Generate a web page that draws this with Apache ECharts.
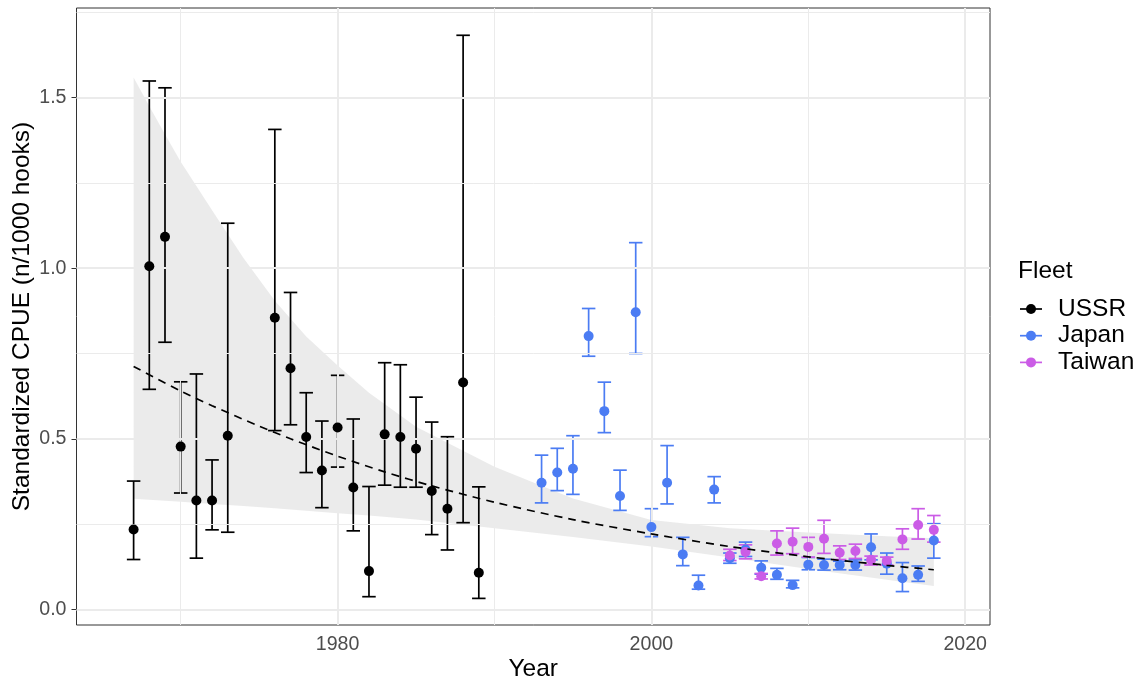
<!DOCTYPE html>
<html>
<head>
<meta charset="utf-8">
<script src="https://cdn.jsdelivr.net/npm/echarts@6/dist/echarts.min.js"></script>
<style>
  html, body { margin: 0; padding: 0; background: #ffffff; }
  #chart { width: 1142px; height: 683px; }
</style>
</head>
<body>
<div id="chart"></div>
<script>
// ---- Standardized CPUE by fleet ----
const fleetNames = ['USSR', 'Japan', 'Taiwan'];
const fleetColors = ['#000000', '#4B7CF3', '#CB5CE6'];

const ussrYears = [1967, 1968, 1969, 1970, 1971, 1972, 1973, 1976, 1977, 1978, 1979,
                   1980, 1981, 1982, 1983, 1984, 1985, 1986, 1987, 1988, 1989];
const ussrCpue  = [0.234, 1.006, 1.092, 0.477, 0.319, 0.319, 0.509, 0.855, 0.707, 0.505, 0.407,
                   0.533, 0.357, 0.112, 0.513, 0.505, 0.471, 0.347, 0.295, 0.665, 0.107];
const ussrLower = [0.146, 0.645, 0.783, 0.341, 0.150, 0.233, 0.226, 0.524, 0.541, 0.401, 0.298,
                   0.417, 0.230, 0.037, 0.364, 0.358, 0.358, 0.219, 0.174, 0.254, 0.032];
const ussrUpper = [0.376, 1.549, 1.529, 0.667, 0.690, 0.438, 1.132, 1.407, 0.929, 0.635, 0.552,
                   0.686, 0.558, 0.360, 0.723, 0.717, 0.622, 0.549, 0.506, 1.683, 0.359];

const japanYears = [1993, 1994, 1995, 1996, 1997, 1998, 1999, 2000, 2001, 2002, 2003, 2004,
                    2005, 2006, 2007, 2008, 2009, 2010, 2011, 2012, 2013, 2014, 2015, 2016, 2017, 2018];
const japanCpue  = [0.371, 0.401, 0.412, 0.801, 0.581, 0.332, 0.871, 0.241, 0.371, 0.161, 0.070, 0.351,
                    0.150, 0.175, 0.122, 0.101, 0.071, 0.131, 0.130, 0.130, 0.130, 0.182, 0.134, 0.091, 0.101, 0.202];
const japanLower = [0.312, 0.348, 0.337, 0.742, 0.518, 0.290, 0.750, 0.213, 0.309, 0.128, 0.059, 0.312,
                    0.135, 0.155, 0.103, 0.088, 0.063, 0.116, 0.115, 0.116, 0.115, 0.145, 0.103, 0.052, 0.082, 0.150];
const japanUpper = [0.452, 0.472, 0.509, 0.882, 0.666, 0.408, 1.075, 0.295, 0.480, 0.211, 0.100, 0.389,
                    0.165, 0.197, 0.142, 0.120, 0.085, 0.152, 0.147, 0.141, 0.145, 0.221, 0.165, 0.137, 0.127, 0.251];

const taiwanYears = [2005, 2006, 2007, 2008, 2009, 2010, 2011, 2012, 2013, 2014, 2015, 2016, 2017, 2018];
const taiwanCpue  = [0.158, 0.168, 0.097, 0.193, 0.198, 0.183, 0.207, 0.166, 0.171, 0.145, 0.142, 0.205, 0.247, 0.233];
const taiwanLower = [0.143, 0.148, 0.089, 0.159, 0.163, 0.153, 0.164, 0.146, 0.149, 0.130, 0.130, 0.176, 0.206, 0.197];
const taiwanUpper = [0.176, 0.189, 0.105, 0.230, 0.238, 0.211, 0.261, 0.186, 0.191, 0.156, 0.153, 0.236, 0.295, 0.275];

// Fitted trend
const trendYears = [1967, 1970, 1972, 1975, 1977, 1980, 1983, 1986, 1990, 1995, 2000, 2005, 2010, 2015, 2018];
const trendFit   = [0.712, 0.640, 0.597, 0.537, 0.500, 0.449, 0.403, 0.362, 0.314, 0.263, 0.221, 0.184, 0.154, 0.129, 0.116];

// Confidence band around the trend
const bandYears = [1967, 1968, 1969, 1970, 1972, 1974, 1976, 1978, 1980, 1982, 1985, 1990, 1995, 2000, 2005, 2010, 2015, 2018];
const bandLower = [0.324, 0.321, 0.318, 0.315, 0.309, 0.303, 0.296, 0.289, 0.282, 0.275, 0.263, 0.238, 0.212, 0.184, 0.152, 0.118, 0.087, 0.068];
const bandUpper = [1.559, 1.475, 1.393, 1.312, 1.170, 1.030, 0.905, 0.800, 0.715, 0.635, 0.535, 0.418, 0.325, 0.262, 0.238, 0.225, 0.214, 0.208];

// Axis breaks
const xMajor = [1980, 2000, 2020];
const xMinor = [1970, 1990, 2010];
const yMajor = [0, 0.5, 1.0, 1.5];
const yMinor = [0.25, 0.75, 1.25, 1.75];

const fleets = [
  { years: ussrYears,   cpue: ussrCpue,   lower: ussrLower,   upper: ussrUpper },
  { years: japanYears,  cpue: japanCpue,  lower: japanLower,  upper: japanUpper },
  { years: taiwanYears, cpue: taiwanCpue, lower: taiwanLower, upper: taiwanUpper }
];

const FONT = '"Liberation Sans", Arial, Helvetica, sans-serif';
const GRID_COLOR = '#EBEBEB';
const CAP_HALF = 0.43; // half width of error bar caps, in years

function errorBars(name, f, color, z) {
  return {
    type: 'custom',
    name: name,
    z: z,
    silent: true,
    data: f.years.map((y, i) => [y, f.lower[i], f.upper[i]]),
    encode: { x: 0, y: [1, 2] },
    renderItem: function (params, api) {
      const x = api.value(0);
      const top = api.coord([x, api.value(2)]);
      const bot = api.coord([x, api.value(1)]);
      const left = api.coord([x - CAP_HALF, api.value(2)])[0];
      const right = api.coord([x + CAP_HALF, api.value(2)])[0];
      const style = { stroke: color, lineWidth: 1.7, fill: null };
      return {
        type: 'group',
        children: [
          { type: 'line', shape: { x1: top[0], y1: top[1], x2: bot[0], y2: bot[1] }, style: style },
          { type: 'line', shape: { x1: left, y1: top[1], x2: right, y2: top[1] }, style: style },
          { type: 'line', shape: { x1: left, y1: bot[1], x2: right, y2: bot[1] }, style: style }
        ]
      };
    }
  };
}

const series = [];

// Panel grid lines
series.push({
  type: 'line',
  data: [],
  z: 0,
  silent: true,
  markLine: {
    silent: true,
    symbol: ['none', 'none'],
    label: { show: false },
    animation: false,
    data: [].concat(
      xMinor.map(v => ({ xAxis: v, lineStyle: { color: GRID_COLOR, width: 1, type: 'solid' } })),
      yMinor.map(v => ({ yAxis: v, lineStyle: { color: GRID_COLOR, width: 1, type: 'solid' } })),
      xMajor.map(v => ({ xAxis: v, lineStyle: { color: GRID_COLOR, width: 2, type: 'solid' } })),
      yMajor.map(v => ({ yAxis: v, lineStyle: { color: GRID_COLOR, width: 2, type: 'solid' } }))
    )
  }
});

// Confidence band as one filled polygon
series.push({
  type: 'custom',
  z: 1,
  silent: true,
  data: bandYears.map((y, i) => [y, bandLower[i], bandUpper[i]]),
  encode: { x: 0, y: [1, 2] },
  renderItem: function (params, api) {
    if (params.dataIndex !== 0) return null;
    const pts = [];
    for (let i = 0; i < bandYears.length; i++) pts.push(api.coord([bandYears[i], bandUpper[i]]));
    for (let i = bandYears.length - 1; i >= 0; i--) pts.push(api.coord([bandYears[i], bandLower[i]]));
    return {
      type: 'polygon',
      shape: { points: pts },
      style: { fill: 'rgba(153,153,153,0.2)', stroke: null }
    };
  }
});

fleets.forEach((f, k) => {
  series.push(errorBars(fleetNames[k] + ' CI', f, fleetColors[k], 2 + k));
});
fleets.forEach((f, k) => {
  series.push({
    type: 'scatter',
    name: fleetNames[k],
    z: 6 + k,
    symbol: 'circle',
    symbolSize: 10,
    itemStyle: { color: fleetColors[k], opacity: 1 },
    data: f.years.map((y, i) => [y, f.cpue[i]])
  });
});

// Fitted trend
series.push({
  type: 'line',
  z: 10,
  silent: true,
  symbol: 'none',
  smooth: 0.3,
  lineStyle: { color: '#000000', width: 1.7, type: [8, 6] },
  data: trendYears.map((y, i) => [y, trendFit[i]])
});

// Legend built from the fleet list
const legendLeft = 1020, legendTop = 309, legendStep = 26.7;
const legendGraphics = [{
  type: 'text', left: 1018, top: 259,
  style: { text: 'Fleet', font: '24.5px ' + FONT, fill: '#000000' }
}];
fleetNames.forEach((name, k) => {
  const cy = legendTop + k * legendStep;
  legendGraphics.push({
    type: 'line', silent: true,
    shape: { x1: legendLeft, y1: cy, x2: legendLeft + 22, y2: cy },
    style: { stroke: fleetColors[k], lineWidth: 1.7 }
  });
  legendGraphics.push({
    type: 'circle', silent: true,
    shape: { cx: legendLeft + 11, cy: cy, r: 5 },
    style: { fill: fleetColors[k] }
  });
  legendGraphics.push({
    type: 'text', silent: true,
    x: legendLeft + 38, y: cy,
    style: { text: name, font: '24.5px ' + FONT, fill: '#000000', verticalAlign: 'middle', align: 'left' }
  });
});

const chart = echarts.init(document.getElementById('chart'), null, { renderer: 'canvas' });
chart.setOption({
  animation: false,
  backgroundColor: '#ffffff',
  textStyle: { fontFamily: FONT },
  grid: {
    left: 76.5, right: 152, top: 8, bottom: 58,
    show: true, borderColor: '#333333', borderWidth: 1, backgroundColor: '#ffffff',
    containLabel: false,
    outerBoundsMode: 'none'
  },
  xAxis: {
    type: 'value',
    min: 1963.36, max: 2021.58,
    name: 'Year',
    nameLocation: 'middle',
    nameGap: 32,
    nameMoveOverlap: false,
    nameTextStyle: { fontSize: 24.5, color: '#000000', fontFamily: FONT },
    axisLine: { show: false },
    axisTick: { show: true, length: 5, customValues: xMajor, lineStyle: { color: '#333333', width: 1 } },
    axisLabel: { show: true, customValues: xMajor, margin: 10, fontSize: 19.6, color: '#4D4D4D', fontFamily: FONT,
                 formatter: v => String(v) },
    splitLine: { show: false },
    minorSplitLine: { show: false }
  },
  yAxis: {
    type: 'value',
    min: -0.046, max: 1.763,
    name: 'Standardized CPUE (n/1000 hooks)',
    nameLocation: 'middle',
    nameGap: 42,
    nameMoveOverlap: false,
    nameTextStyle: { fontSize: 24.5, color: '#000000', fontFamily: FONT },
    axisLine: { show: false },
    axisTick: { show: true, length: 5, customValues: yMajor, lineStyle: { color: '#333333', width: 1 } },
    axisLabel: { show: true, customValues: yMajor, margin: 10, fontSize: 19.6, color: '#4D4D4D', fontFamily: FONT,
                 formatter: v => v.toFixed(1) },
    splitLine: { show: false },
    minorSplitLine: { show: false }
  },
  graphic: legendGraphics,
  series: series
});
</script>
</body>
</html>
